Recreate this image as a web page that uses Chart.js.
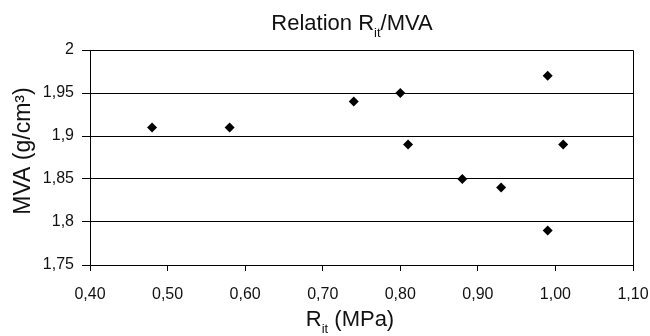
<!DOCTYPE html>
<html>
<head>
<meta charset="utf-8">
<script src="https://cdn.jsdelivr.net/npm/chart.js@4"></script>
<style>
  html, body { margin: 0; padding: 0; background: #fff; }
  #wrap { width: 650px; height: 336px; }
</style>
</head>
<body>
<div id="wrap"><canvas id="chart" width="650" height="336"></canvas></div>
<script>
// data
const ritValues = [0.48, 0.58, 0.74, 0.80, 0.81, 0.88, 0.93, 0.99, 1.01, 0.99];
const mvaValues = [1.91, 1.91, 1.94, 1.95, 1.89, 1.85, 1.84, 1.97, 1.89, 1.79];
const titleText = ['Relation R', 'it', '/MVA'];
const xTitleText = ['R', 'it', ' (MPa)'];
const yTitleText = 'MVA (g/cm\u00B3)';

const points = ritValues.map((x, i) => ({ x: x, y: mvaValues[i] }));
const FONT = '"Liberation Sans", Arial, sans-serif';

// draws text with a subscript part, centred on cx
function drawSub(ctx, parts, cx, cy, size) {
  const big = size + 'px ' + FONT;
  const small = Math.round(size * 0.6) + 'px ' + FONT;
  ctx.font = big; const w0 = ctx.measureText(parts[0]).width;
  const w2 = ctx.measureText(parts[2]).width;
  ctx.font = small; const w1 = ctx.measureText(parts[1]).width;
  let x = cx - (w0 + w1 + w2) / 2;
  ctx.textAlign = 'left';
  ctx.textBaseline = 'alphabetic';
  ctx.font = big; ctx.fillText(parts[0], x, cy); x += w0;
  ctx.font = small; ctx.fillText(parts[1], x, cy + size * 0.3); x += w1;
  ctx.font = big; ctx.fillText(parts[2], x, cy);
}

// frame + titles
const extras = {
  id: 'extras',
  afterDraw(chart) {
    const ctx = chart.ctx;
    const a = chart.chartArea;
    ctx.save();
    ctx.strokeStyle = '#000';
    ctx.lineWidth = 1;
    ctx.beginPath();
    ctx.moveTo(a.left, a.top + 0.5);
    ctx.lineTo(a.right + 0.5, a.top + 0.5);
    ctx.lineTo(a.right + 0.5, a.bottom);
    ctx.stroke();
    ctx.fillStyle = '#111';
    drawSub(ctx, titleText, 352, 30, 22);
    drawSub(ctx, xTitleText, 350, 326, 22);
    ctx.translate(30, 151);
    ctx.rotate(-Math.PI / 2);
    ctx.font = '23px ' + FONT;
    ctx.textAlign = 'center';
    ctx.fillText(yTitleText, 0, 0);
    ctx.restore();
  }
};

new Chart(document.getElementById('chart'), {
  type: 'scatter',
  data: {
    datasets: [{
      data: points,
      pointStyle: 'rectRot',
      pointRadius: 5,
      backgroundColor: '#000',
      borderColor: '#000',
      borderWidth: 0
    }]
  },
  options: {
    responsive: false,
    animation: false,
    layout: { padding: { top: 50, right: 17, left: 0, bottom: 0 } },
    plugins: { legend: { display: false }, tooltip: { enabled: false } },
    scales: {
      x: {
        type: 'linear',
        min: 0.4, max: 1.1,
        afterFit(s) { s.height = 71; s.paddingLeft = 0; s.paddingRight = 0; },
        border: { color: '#000', width: 1 },
        grid: { drawOnChartArea: false, drawTicks: true, tickLength: 6, color: '#000' },
        ticks: {
          stepSize: 0.1, color: '#111', padding: 14,
          font: { family: FONT, size: 16 },
          callback: v => v.toFixed(2).replace('.', ',')
        }
      },
      y: {
        min: 1.75, max: 2,
        afterFit(s) { s.width = 90; s.paddingTop = 0; s.paddingBottom = 0; },
        border: { color: '#000', width: 1 },
        grid: { color: '#000', tickLength: 8 },
        ticks: {
          stepSize: 0.05, color: '#111', padding: 8,
          font: { family: FONT, size: 16 },
          callback: v => String(parseFloat(v.toFixed(2))).replace('.', ',')
        }
      }
    }
  },
  plugins: [extras]
});
</script>
</body>
</html>
